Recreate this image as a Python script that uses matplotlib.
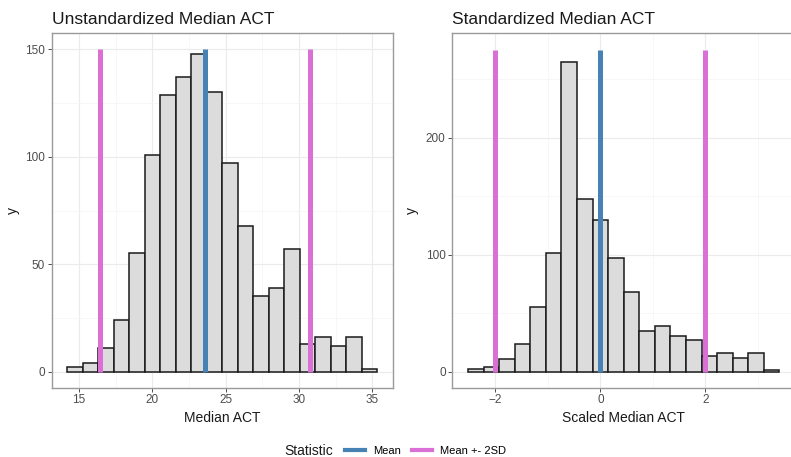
import numpy as np
import matplotlib
matplotlib.use('Agg')
import matplotlib.pyplot as plt
from matplotlib.lines import Line2D
from matplotlib.ticker import MultipleLocator

# Left panel: raw median ACT (20 bins)
raw_bin_start = 14.21
raw_bin_end   = 35.34
raw_counts    = [2, 4, 11, 24, 55, 101, 129, 137, 148, 130,
                 97, 68, 35, 39, 57, 13, 16, 12, 16, 1]
raw_mean      = 23.6
raw_2sd       = [16.46, 30.72]
raw_line_top  = 150
raw_xticks    = [15, 20, 25, 30, 35]
raw_yticks    = [0, 50, 100, 150]

# Right panel: scaled median ACT (20 bins)
std_bin_start = -2.521
std_bin_end   = 3.41
std_counts    = [2, 4, 11, 24, 55, 101, 265, 148, 130, 97,
                 68, 35, 39, 30, 27, 13, 16, 12, 16, 1]
std_mean      = 0.0
std_2sd       = [-2.0, 2.0]
std_line_top  = 275
std_xticks    = [-2, 0, 2]
std_yticks    = [0, 100, 200]

legend_labels = ['Mean', 'Mean +- 2SD']

MEAN_COL = '#4682B4'
SD_COL   = '#DA70D6'

plt.rcParams['font.family'] = ['Liberation Sans', 'DejaVu Sans']


def draw_panel(ax, start, end, counts, mean, sd2, top, xticks, yticks,
               title, xlabel, xlim, ylim, xminor, yminor):
  edges = np.linspace(start, end, len(counts) + 1)
  ax.bar(edges[:-1], counts, width=np.diff(edges), align='edge',
         color='#dcdcdc', edgecolor='#1a1a1a', linewidth=1.1, zorder=2)
  # mean and +-2sd segments
  ax.vlines([mean], 0, top, color=MEAN_COL, linewidth=3.6, zorder=3)
  ax.vlines(sd2, 0, top, color=SD_COL, linewidth=3.6, zorder=3)

  ax.set_xlim(*xlim)
  ax.set_ylim(*ylim)
  ax.set_xticks(xticks)
  ax.set_yticks(yticks)
  ax.xaxis.set_minor_locator(MultipleLocator(xminor))
  ax.yaxis.set_minor_locator(MultipleLocator(yminor))
  ax.grid(True, which='major', color='#ebebeb', linewidth=0.8, zorder=0)
  ax.grid(True, which='minor', color='#f4f4f4', linewidth=0.5, zorder=0)
  ax.set_axisbelow(True)
  ax.tick_params(which='major', length=2.8, width=0.6, color='#333333',
                 labelsize=8.5, labelcolor='#4d4d4d', pad=2)
  ax.tick_params(which='minor', length=0)
  for sp in ax.spines.values():
    sp.set_color('#9a9a9a')
    sp.set_linewidth(1.0)

  ax.set_title(title, loc='left', fontsize=12.5, color='#1a1a1a', pad=7)
  ax.set_xlabel(xlabel, fontsize=10, color='#1a1a1a', labelpad=3)
  ax.set_ylabel('y', fontsize=10, color='#1a1a1a')
# end def draw_panel


fig = plt.figure(figsize=(7.91, 4.57), dpi=100)

ax1 = fig.add_axes([51.7 / 791, 1 - 387.7 / 457, (393 - 51.7) / 791, 354.4 / 457])
draw_panel(ax1, raw_bin_start, raw_bin_end, raw_counts, raw_mean, raw_2sd,
           raw_line_top, raw_xticks, raw_yticks,
           'Unstandardized Median ACT', 'Median ACT',
           (13.15, 36.4), (-7.5, 157.5), 2.5, 25)
ax1.yaxis.set_label_coords(-0.093, 0.5)

ax2 = fig.add_axes([452.3 / 791, 1 - 387.7 / 457, (795.1 - 452.3) / 791, 354.4 / 457])
draw_panel(ax2, std_bin_start, std_bin_end, std_counts, std_mean, std_2sd,
           std_line_top, std_xticks, std_yticks,
           'Standardized Median ACT', 'Scaled Median ACT',
           (-2.82, 3.71), (-13.8, 289.3), 1, 50)
ax2.yaxis.set_label_coords(-0.097, 0.5)

# legend at bottom, title to the left
fig.text(284 / 791, 1 - 451 / 457, 'Statistic', fontsize=10, color='#1a1a1a',
         va='center', ha='left')
handles = [Line2D([], [], color=MEAN_COL, linewidth=3),
           Line2D([], [], color=SD_COL, linewidth=3)]
fig.legend(handles, legend_labels, loc='center left',
           bbox_to_anchor=(345 / 791, 1 - 451 / 457), ncol=2, frameon=False,
           fontsize=8, handlelength=1.8, handletextpad=0.7, columnspacing=1.0,
           borderpad=0, borderaxespad=0)

fig.savefig('out.png', dpi=100)
